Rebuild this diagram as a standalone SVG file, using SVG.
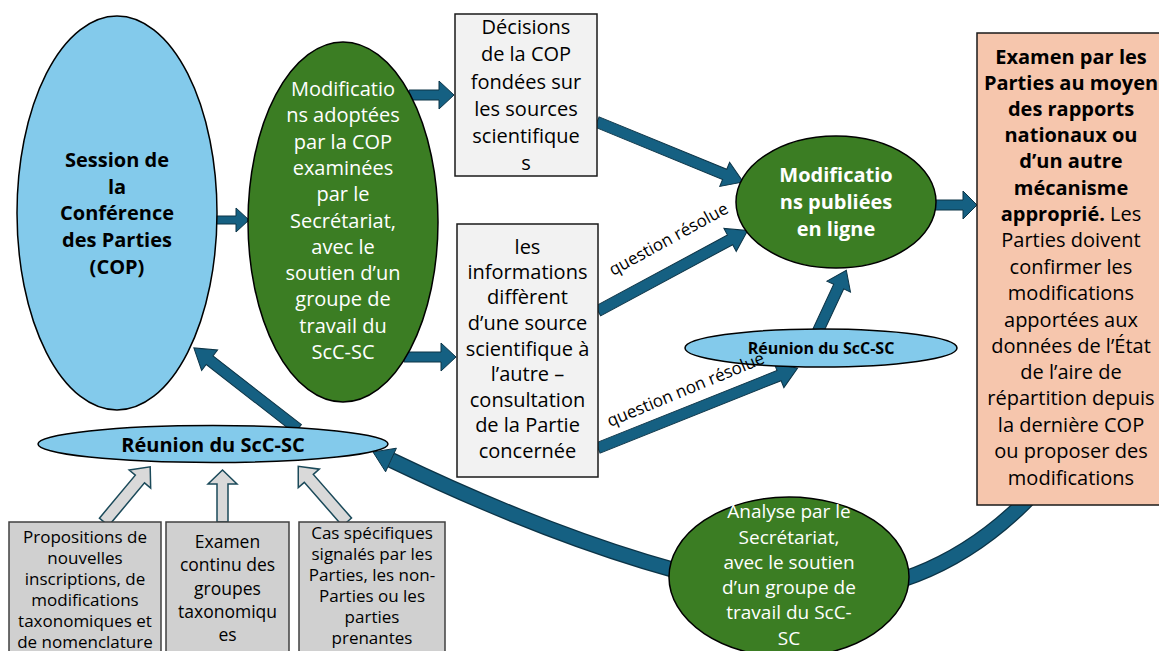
<svg xmlns="http://www.w3.org/2000/svg" width="1159" height="651" viewBox="0 0 1159 651">
<style>
.t{font-family:"Open Sans","Liberation Sans",sans-serif;text-anchor:middle;fill:#000}
.w{fill:#fff}
.b{font-weight:700}
.s20{font-size:20px}
.s19{font-size:19px}
.s17{font-size:17px}
.blue{fill:#83CAEB;stroke:#000;stroke-width:1.5}
.green{fill:#3B7D23;stroke:#000;stroke-width:1.5}
.box{fill:#F2F2F2;stroke:#1a1a1a;stroke-width:1.5}
.gbox{fill:#D0D0D0;stroke:#404040;stroke-width:1.5}
.peach{fill:#F6C6AD;stroke:#1a1a1a;stroke-width:1.5}
.arr{fill:#156082;stroke:#0c3447;stroke-width:1}
.oarr{fill:#D9D9D9;stroke:#1b4a5a;stroke-width:1.5}
.lbl{font-family:"Open Sans","Liberation Sans",sans-serif;font-size:17px;fill:#000}
</style>
<rect width="1159" height="651" fill="#fff"/>
<g id="connectors">
  <path d="M1030 497 Q930 600 790 595 Q620 570 391 460" fill="none" stroke="#0c3447" stroke-width="16"/>
  <path d="M1030 497 Q930 600 790 595 Q620 570 391 460" fill="none" stroke="#156082" stroke-width="13.5"/>
  <polygon class="arr" points="373,452 396.4,448.2 385.6,471.8"/>
  <polygon class="arr" transform="translate(216,220)" points="0,-4 20,-4 20,-12 33,0 20,12 20,4 0,4"/>
  <polygon class="arr" transform="translate(409,95)" points="0,-5 30,-5 30,-14 45,0 30,14 30,5 0,5"/>
  <polygon class="arr" transform="translate(404,357)" points="0,-5 37,-5 37,-14 52,0 37,14 37,5 0,5"/>
  <polygon class="arr" transform="translate(597,122) rotate(22.3)" points="0,-5.5 138,-5.5 138,-13 158,0 138,13 138,5.5 0,5.5"/>
  <polygon class="arr" transform="translate(598,311) rotate(-28.3)" points="0,-5.5 150,-5.5 150,-13 170,0 150,13 150,5.5 0,5.5"/>
  <polygon class="arr" transform="translate(818,331) rotate(-65)" points="0,-5.5 49,-5.5 49,-13 67,0 49,13 49,5.5 0,5.5"/>
  <polygon class="arr" transform="translate(598,448) rotate(-21.8)" points="0,-5.5 195,-5.5 195,-13 215,0 195,13 195,5.5 0,5.5"/>
  <polygon class="arr" transform="translate(934,205)" points="0,-5 29,-5 29,-14 43,0 29,14 29,5 0,5"/>
  <polygon class="arr" transform="translate(298,429) rotate(-142.1)" points="0,-5.5 112,-5.5 112,-13 132,0 112,13 112,5.5 0,5.5"/>
  <polygon class="oarr" transform="translate(104,522) rotate(-50.1)" points="0,-6 56,-6 56,-14 72,0 56,14 56,6 0,6"/>
  <polygon class="oarr" transform="translate(222.5,522) rotate(-90)" points="0,-5.5 38,-5.5 38,-14.5 52,0 38,14.5 38,5.5 0,5.5"/>
  <polygon class="oarr" transform="translate(347,522) rotate(-131.2)" points="0,-6 58,-6 58,-14 74,0 58,14 58,6 0,6"/>
</g>
<g id="cop">
  <ellipse class="blue" cx="117" cy="213" rx="100" ry="197"/>
  <text class="t b s20" x="117"><tspan x="117" y="167">Session de</tspan><tspan x="117" y="194">la</tspan><tspan x="117" y="220">Conférence</tspan><tspan x="117" y="247">des Parties</tspan><tspan x="117" y="274">(COP)</tspan></text>
</g>
<g id="modif-adoptees">
  <ellipse class="green" cx="343" cy="222" rx="95" ry="180"/>
  <text class="t w s20"><tspan x="343" y="96">Modificatio</tspan><tspan x="343" y="122">ns adoptées</tspan><tspan x="343" y="149">par la COP</tspan><tspan x="343" y="175">examinées</tspan><tspan x="343" y="201">par le</tspan><tspan x="343" y="228">Secrétariat,</tspan><tspan x="343" y="254">avec le</tspan><tspan x="343" y="280">soutien d’un</tspan><tspan x="343" y="306">groupe de</tspan><tspan x="343" y="333">travail du</tspan><tspan x="343" y="359">ScC-SC</tspan></text>
</g>
<g id="decisions">
  <rect class="box" x="455" y="14" width="142" height="162"/>
  <text class="t s20"><tspan x="526" y="34">Décisions</tspan><tspan x="526" y="61">de la COP</tspan><tspan x="526" y="89">fondées sur</tspan><tspan x="526" y="116">les sources</tspan><tspan x="526" y="143">scientifique</tspan><tspan x="526" y="170">s</tspan></text>
</g>
<g id="informations">
  <rect class="box" x="457" y="224" width="141" height="253"/>
  <text class="t s20"><tspan x="527.5" y="254">les</tspan><tspan x="527.5" y="279">informations</tspan><tspan x="527.5" y="304">diffèrent</tspan><tspan x="527.5" y="330">d’une source</tspan><tspan x="527.5" y="356">scientifique à</tspan><tspan x="527.5" y="381">l’autre –</tspan><tspan x="527.5" y="407">consultation</tspan><tspan x="527.5" y="432">de la Partie</tspan><tspan x="527.5" y="458">concernée</tspan></text>
</g>
<g id="modif-publiees">
  <ellipse class="green" cx="836" cy="202" rx="100" ry="66"/>
  <text class="t w b s20"><tspan x="836" y="182">Modificatio</tspan><tspan x="836" y="209">ns publiées</tspan><tspan x="836" y="236">en ligne</tspan></text>
</g>
<g id="reunion-droite">
  <ellipse class="blue" cx="821" cy="348" rx="136" ry="19"/>
  <text class="t b" style="font-size:16px" x="821" y="354">Réunion du ScC-SC</text>
</g>
<g id="examen-parties">
  <rect class="peach" x="977" y="33" width="200" height="472"/>
  <text class="t s20"><tspan class="b" x="1071" y="64">Examen par les</tspan><tspan class="b" x="1071" y="90">Parties au moyen</tspan><tspan class="b" x="1071" y="116">des rapports</tspan><tspan class="b" x="1071" y="142">nationaux ou</tspan><tspan class="b" x="1071" y="168">d’un autre</tspan><tspan class="b" x="1071" y="195">mécanisme</tspan><tspan x="1071" y="221"><tspan class="b">approprié.</tspan> Les</tspan><tspan x="1071" y="247">Parties doivent</tspan><tspan x="1071" y="274">confirmer les</tspan><tspan x="1071" y="300">modifications</tspan><tspan x="1071" y="327">apportées aux</tspan><tspan x="1071" y="353">données de l’État</tspan><tspan x="1071" y="379">de l’aire de</tspan><tspan x="1071" y="405">répartition depuis</tspan><tspan x="1071" y="432">la dernière COP</tspan><tspan x="1071" y="458">ou proposer des</tspan><tspan x="1071" y="485">modifications</tspan></text>
</g>
<g id="analyse">
  <ellipse class="green" cx="789" cy="577" rx="120" ry="80"/>
  <text class="t w s19"><tspan x="789" y="518">Analyse par le</tspan><tspan x="789" y="544">Secrétariat,</tspan><tspan x="789" y="569">avec le soutien</tspan><tspan x="789" y="594">d’un groupe de</tspan><tspan x="789" y="619">travail du ScC-</tspan><tspan x="789" y="645">SC</tspan></text>
</g>
<g id="reunion-gauche">
  <ellipse class="blue" cx="213" cy="444" rx="175" ry="18.5"/>
  <text class="t b s20" x="213" y="452">Réunion du ScC-SC</text>
</g>
<g id="propositions">
  <rect class="gbox" x="9" y="522" width="152" height="140"/>
  <text class="t s17"><tspan x="85" y="543">Propositions de</tspan><tspan x="85" y="564">nouvelles</tspan><tspan x="85" y="585">inscriptions, de</tspan><tspan x="85" y="606">modifications</tspan><tspan x="85" y="627">taxonomiques et</tspan><tspan x="85" y="648">de nomenclature</tspan></text>
</g>
<g id="examen-continu">
  <rect class="gbox" x="166" y="522" width="123" height="140"/>
  <text class="t" style="font-size:17.5px"><tspan x="227.5" y="548">Examen</tspan><tspan x="227.5" y="571">continu des</tspan><tspan x="227.5" y="595">groupes</tspan><tspan x="227.5" y="618">taxonomiqu</tspan><tspan x="227.5" y="641">es</tspan></text>
</g>
<g id="cas-specifiques">
  <rect class="gbox" x="299" y="522" width="146" height="140"/>
  <text class="t s17"><tspan x="372" y="539">Cas spécifiques</tspan><tspan x="372" y="560">signalés par les</tspan><tspan x="372" y="581">Parties, les non-</tspan><tspan x="372" y="602">Parties ou les</tspan><tspan x="372" y="623">parties</tspan><tspan x="372" y="644">prenantes</tspan></text>
</g>
<g id="labels">
  <text class="lbl" transform="translate(613,276) rotate(-28.7)">question résolue</text>
  <text class="lbl" transform="translate(610,427) rotate(-22.5)">question non résolue</text>
</g>
</svg>
